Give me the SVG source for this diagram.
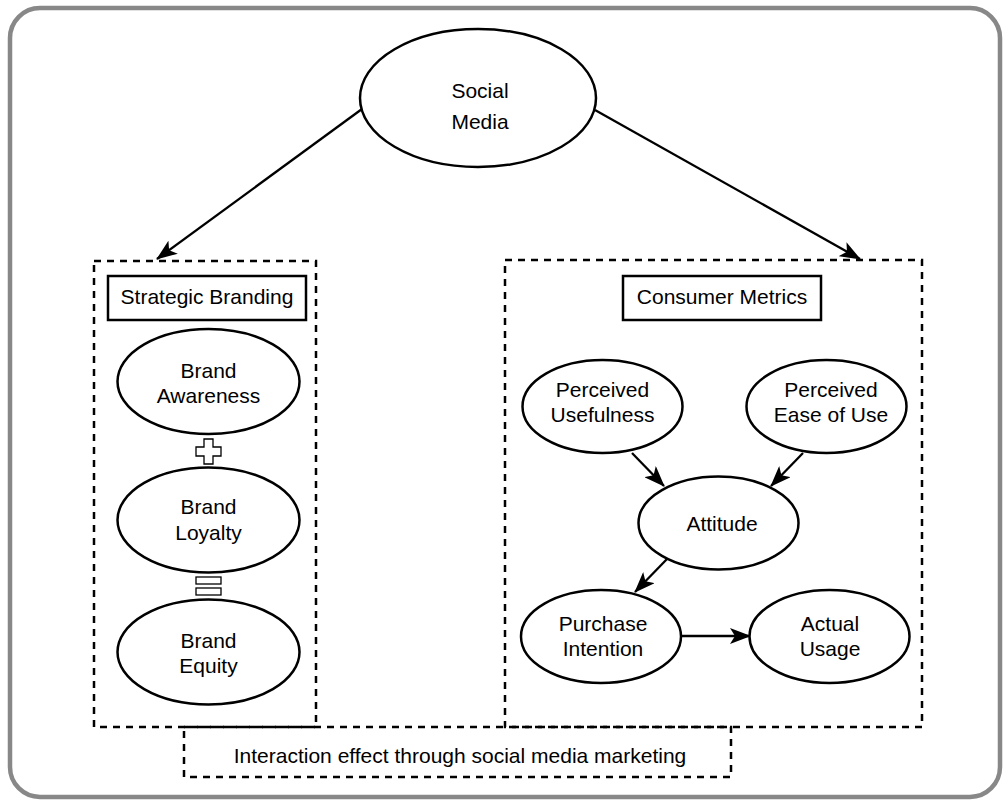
<svg xmlns="http://www.w3.org/2000/svg" width="1005" height="800" viewBox="0 0 1005 800">
<style>
  .node { fill: #ffffff; stroke: #000000; stroke-width: 2.5; }
  .dash { fill: none; stroke: #000000; stroke-width: 2.5; stroke-dasharray: 7 6; }
  .box { fill: #ffffff; stroke: #000000; stroke-width: 2.5; }
  .sym { fill: #ffffff; stroke: #000000; stroke-width: 1.3; }
  .conn { fill: none; stroke: #000000; stroke-width: 2.3; }
  text { font-family: "Liberation Sans", Arial, sans-serif; font-size: 21px; fill: #000000; text-anchor: middle; }
</style>
<defs>
  <marker id="arrow" viewBox="0 0 21 16" refX="20" refY="8" markerWidth="21" markerHeight="16" markerUnits="userSpaceOnUse" orient="auto">
    <path d="M0,0 L21,8 L0,16 L5,8 Z" fill="#000000"/>
  </marker>
</defs>
<rect x="0" y="0" width="1005" height="800" fill="#ffffff"/>
<rect x="10" y="8" width="990" height="789" rx="30" ry="30" fill="#ffffff" stroke="#888888" stroke-width="4.5"/>

<g id="interaction-box">
  <rect class="dash" x="184" y="727" width="547" height="50"/>
  <text x="460" y="763">Interaction effect through social media marketing</text>
</g>

<g id="strategic-branding-group">
  <rect class="dash" x="94" y="261" width="222" height="466"/>
</g>
<g id="consumer-metrics-group">
  <rect class="dash" x="505" y="260" width="417" height="467"/>
</g>

<g id="connectors">
  <line class="conn" x1="362" y1="109" x2="157" y2="259" marker-end="url(#arrow)"/>
  <line class="conn" x1="595" y1="110" x2="860" y2="259" marker-end="url(#arrow)"/>
  <line class="conn" x1="632" y1="453" x2="664" y2="486" marker-end="url(#arrow)"/>
  <line class="conn" x1="803" y1="453" x2="771" y2="486" marker-end="url(#arrow)"/>
  <line class="conn" x1="667" y1="559" x2="635" y2="592" marker-end="url(#arrow)"/>
  <line class="conn" x1="681" y1="636" x2="750" y2="636" marker-end="url(#arrow)"/>
</g>

<g id="social-media">
  <ellipse class="node" cx="478" cy="98" rx="118" ry="69"/>
  <text x="480" y="98">Social</text>
  <text x="480" y="129">Media</text>
</g>

<g id="strategic-branding-label">
  <rect class="box" x="108" y="276" width="198" height="44"/>
  <text x="207" y="304">Strategic Branding</text>
</g>

<g id="brand-awareness">
  <ellipse class="node" cx="208.5" cy="381.5" rx="91" ry="52.5"/>
  <text x="208.5" y="378">Brand</text>
  <text x="208.5" y="403">Awareness</text>
</g>

<g id="plus-sign">
  <path class="sym" d="M204,439 H213 V447 H221 V456 H213 V464 H204 V456 H196 V447 H204 Z"/>
</g>

<g id="brand-loyalty">
  <ellipse class="node" cx="208.5" cy="520" rx="91" ry="52.5"/>
  <text x="208.5" y="514">Brand</text>
  <text x="208.5" y="540">Loyalty</text>
</g>

<g id="equals-sign">
  <rect class="sym" x="196" y="577" width="25" height="7"/>
  <rect class="sym" x="196" y="588" width="25" height="7"/>
</g>

<g id="brand-equity">
  <ellipse class="node" cx="208.5" cy="652" rx="91" ry="52.5"/>
  <text x="208.5" y="648">Brand</text>
  <text x="208.5" y="673">Equity</text>
</g>

<g id="consumer-metrics-label">
  <rect class="box" x="623" y="276" width="198" height="44"/>
  <text x="722" y="304">Consumer Metrics</text>
</g>

<g id="perceived-usefulness">
  <ellipse class="node" cx="602.5" cy="406.5" rx="80" ry="46.5"/>
  <text x="602.5" y="397">Perceived</text>
  <text x="602.5" y="422">Usefulness</text>
</g>

<g id="perceived-ease-of-use">
  <ellipse class="node" cx="826.5" cy="406.5" rx="80" ry="46.5"/>
  <text x="831" y="397">Perceived</text>
  <text x="831" y="422">Ease of Use</text>
</g>

<g id="attitude">
  <ellipse class="node" cx="718.5" cy="523" rx="80" ry="46.5"/>
  <text x="722" y="531">Attitude</text>
</g>

<g id="purchase-intention">
  <ellipse class="node" cx="601" cy="636.5" rx="80" ry="46.5"/>
  <text x="603" y="631">Purchase</text>
  <text x="603" y="656">Intention</text>
</g>

<g id="actual-usage">
  <ellipse class="node" cx="829.5" cy="636.5" rx="80" ry="46.5"/>
  <text x="830" y="631">Actual</text>
  <text x="830" y="656">Usage</text>
</g>
</svg>
